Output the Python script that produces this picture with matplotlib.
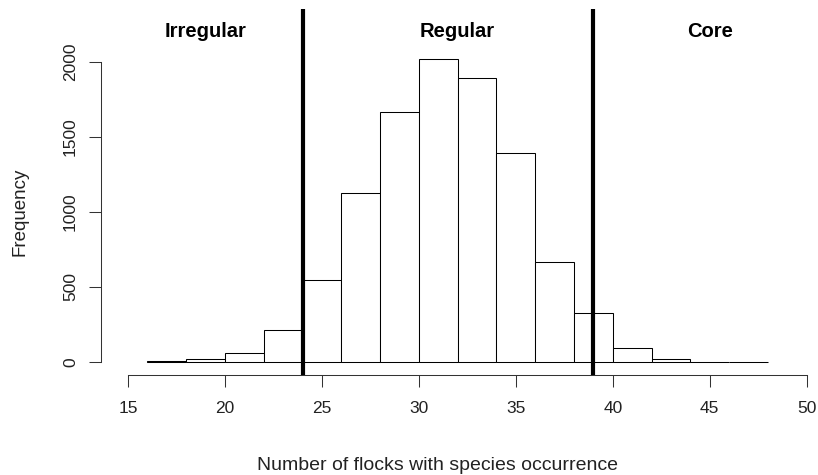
import matplotlib
matplotlib.use("Agg")
import matplotlib.pyplot as plt

# Histogram of species occurrence counts (bins of width 2 from 16 to 48)
bin_edges = [16, 18, 20, 22, 24, 26, 28, 30, 32, 34, 36, 38, 40, 42, 44, 46, 48]
counts = [4, 17, 62, 213, 548, 1128, 1667, 2016, 1889, 1394, 666, 326, 93, 18, 0, 0]

# Category thresholds and their labels
thresholds = [24, 39]
zone_labels = ["Irregular", "Regular", "Core"]
zone_label_x = [19, 32, 45]
zone_label_y = 2200

x_ticks = [15, 20, 25, 30, 35, 40, 45, 50]
y_ticks = [0, 500, 1000, 1500, 2000]

plt.rcParams["font.family"] = ["Liberation Sans", "DejaVu Sans"]

W, H, DPI = 818, 475, 100
fig = plt.figure(figsize=(W / DPI, H / DPI), dpi=DPI)

# plot region in pixels
left_px, right_px, top_px, bottom_px = 101, 818, 9, 375
ax = fig.add_axes([left_px / W, 1 - bottom_px / H,
                   (right_px - left_px) / W, (bottom_px - top_px) / H])

px_per_x = (806.7 - 128.0) / 35.0
x0 = 15 - (128.0 - left_px) / px_per_x
x1 = 50 + (right_px - 806.7) / px_per_x
px_per_y = (362.0 - 61.7) / 2000.0
y0 = -(bottom_px - 362.0) / px_per_y
y1 = (362.0 - top_px) / px_per_y
ax.set_xlim(x0, x1)
ax.set_ylim(y0, y1)

lw_thin = 0.75
widths = [b - a for a, b in zip(bin_edges[:-1], bin_edges[1:])]
ax.bar(bin_edges[:-1], counts, width=widths, align="edge",
       facecolor="white", edgecolor="black", linewidth=lw_thin, zorder=2)

for t in thresholds:
    ax.axvline(t, color="black", linewidth=3.0, zorder=3)

for lab, xl in zip(zone_labels, zone_label_x):
    ax.text(xl, zone_label_y, lab, ha="center", va="center",
            fontsize=14.5, fontweight="bold", zorder=4)

for side in ("top", "right"):
    ax.spines[side].set_visible(False)
ax.spines["bottom"].set_bounds(15, 50)
ax.spines["left"].set_bounds(0, 2000)
for side in ("bottom", "left"):
    ax.spines[side].set_linewidth(lw_thin)
    ax.spines[side].set_color("#333333")

ax.set_xticks(x_ticks)
ax.set_xticklabels([str(v) for v in x_ticks])
ax.set_yticks(y_ticks)
ax.set_yticklabels([str(v) for v in y_ticks], rotation=90, va="center")
ax.tick_params(axis="both", length=8.5, width=lw_thin, color="#333333",
               labelsize=12.5, labelcolor="#222222")
ax.tick_params(axis="x", pad=10.5)
ax.tick_params(axis="y", pad=8)

fig.text(437 / W, 1 - 465 / H, "Number of flocks with species occurrence",
         ha="center", va="center", fontsize=14, color="#222222")
fig.text(20 / W, 1 - 212 / H, "Frequency", ha="center", va="center",
         rotation=90, fontsize=13.5, color="#222222")

fig.savefig("out.png", dpi=DPI, facecolor="white")
